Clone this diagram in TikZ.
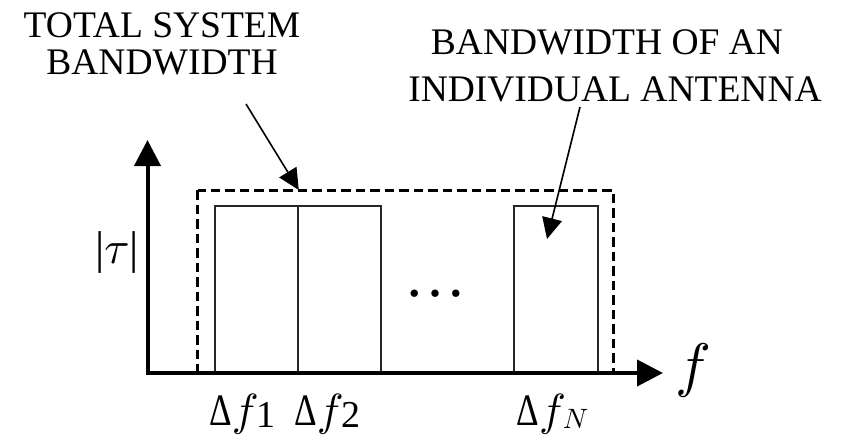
\documentclass[tikz,border=0pt]{standalone}
\usepackage{fontspec}
\setmainfont{Liberation Serif}
\usetikzlibrary{arrows.meta}
\newcommand{\scmath}[2]{\scalebox{#1}{\fontsize{10}{12}\selectfont$#2$}}
\newcommand{\narrowdelta}{\scalebox{0.78}[1]{Δ}}
\begin{document}
\begin{tikzpicture}[x=1pt,y=-1pt,
  lbl/.style={inner sep=0pt, anchor=base, font=\fontsize{37.5}{40}\selectfont},
  dlbl/.style={inner sep=0pt, anchor=base, font=\fontsize{45}{48}\selectfont},
  axisline/.style={line width=4pt, line join=miter,
    {Triangle[length=26pt,width=26pt]}-{Triangle[length=26pt,width=26pt]}},
  sysbox/.style={line width=3pt, dash pattern=on 9.5pt off 5pt},
  band/.style={draw=black!85, line width=1.8pt, inner sep=0pt,
    minimum width=83pt, minimum height=166.3pt, anchor=south west},
  ptr/.style={line width=1.6pt, -{Triangle[length=21pt,width=20pt]}}]
\useasboundingbox (0,0) rectangle (844,439);
% axes
\coordinate (O) at (147.5,373);
\coordinate (ytip) at (147.5,140);
\coordinate (xtip) at (663,373);
% dashed system bandwidth box
\coordinate (sysNW) at (197.5,190);
\coordinate (sysSE) at (613,373);
\draw[sysbox] (sysNW) rectangle (sysSE);
% individual bands
\node[band] (b1) at (214,373) {};
\node[band] (b2) at (297,373) {};
\node[band, minimum width=84pt] (bN) at (513,373) {};
\draw[axisline] (ytip) -- (O) -- (xtip);
% labels
\node[lbl] (tot1) at (162,37) {TOTAL SYSTEM};
\node[lbl] (tot2) at (162,74) {BANDWIDTH};
\node[lbl] (ind1) at (607,54) {BANDWIDTH OF AN};
\node[lbl] (ind2) at (615,101) {INDIVIDUAL ANTENNA};
\node[inner sep=0pt, anchor=base, font=\fontsize{46}{50}\selectfont] (tau) at (117,263) {|\scmath{4.6}{\tau}|};
\node[inner sep=0pt, font=\fontsize{62}{64}\selectfont] (dots) at (435,294) {…};
\node[inner sep=0pt, anchor=base] (flab) at (693,385) {\scmath{6}{f}};
\node[dlbl] (d1) at (242.5,425) {\narrowdelta\scmath{4.5}{f}\kern-2pt\raisebox{-2pt}{\fontsize{38}{38}\selectfont 1}};
\node[dlbl] (d2) at (327.5,425) {\narrowdelta\scmath{4.5}{f}\kern-2pt\raisebox{-2pt}{\fontsize{38}{38}\selectfont 2}};
\node[dlbl] (dN) at (552.5,425) {\narrowdelta\scmath{4.5}{f}\kern-3pt\raisebox{-3pt}{\scmath{2.8}{N}}};
% pointers
\coordinate (a1s) at (246,104);
\coordinate (a1e) at (b1.north east |- sysNW);
\draw[ptr] (a1s) -- (a1e);
\coordinate (a2s) at (580,107);
\coordinate (a2e) at (547,239);
\draw[ptr] (a2s) -- (a2e);
\end{tikzpicture}
\end{document}
